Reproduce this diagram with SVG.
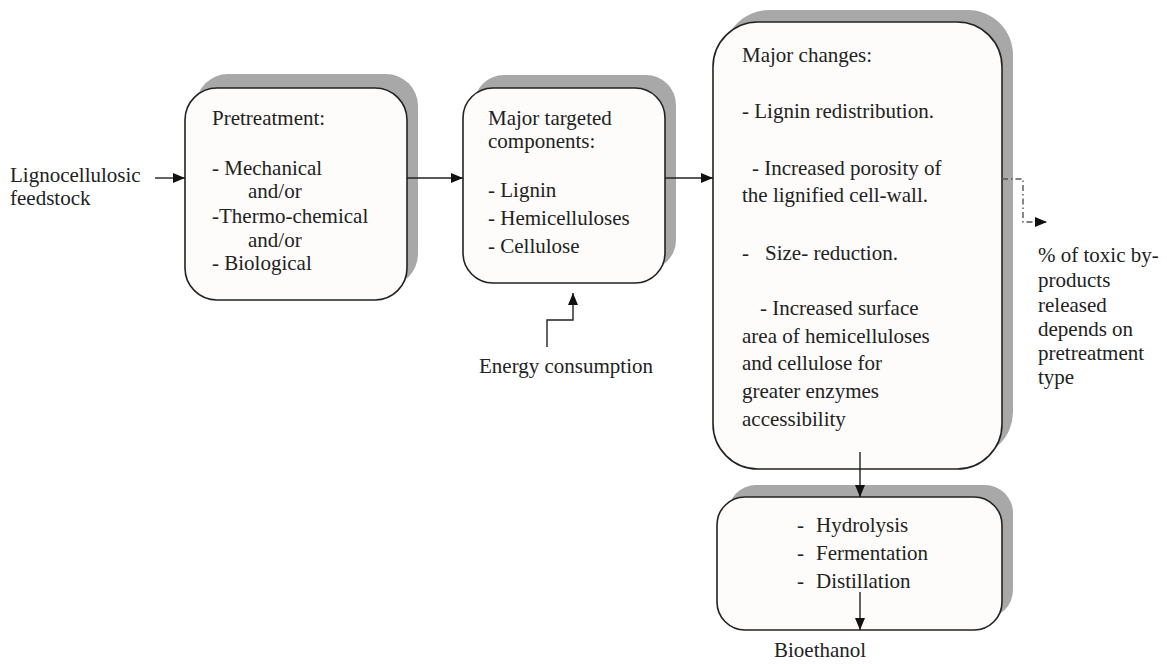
<svg xmlns="http://www.w3.org/2000/svg" width="1167" height="664" viewBox="0 0 1167 664">
<style>
  text { font-family: "Liberation Serif", "Times New Roman", serif; font-size: 21px; fill: #222; }
  .box { fill: #fdfcfa; stroke: #222; stroke-width: 1.6; }
  .shadow { fill: #a8a8a8; stroke: none; }
  .conn { fill: none; stroke: #222; stroke-width: 1.4; }
  .dash { fill: none; stroke: #555; stroke-width: 1.4; stroke-dasharray: 6 3 1.5 3; }
</style>
<defs>
  <marker id="arrow" markerWidth="12" markerHeight="10" refX="12" refY="5" orient="auto" markerUnits="userSpaceOnUse">
    <path d="M0,0 L12,5 L0,10 Z" fill="#111"/>
  </marker>
</defs>
<rect width="1167" height="664" fill="#ffffff"/>

<g id="input-label">
  <text x="10" y="182">Lignocellulosic</text>
  <text x="10" y="205">feedstock</text>
</g>

<g id="pretreatment">
  <rect class="shadow" x="196" y="74" width="222" height="212" rx="32"/>
  <rect class="box" x="185" y="88" width="222" height="212" rx="32"/>
  <text x="212" y="125">Pretreatment:</text>
  <text x="212" y="175">- Mechanical</text>
  <text x="248" y="198">and/or</text>
  <text x="212" y="223">-Thermo-chemical</text>
  <text x="248" y="247">and/or</text>
  <text x="212" y="270">- Biological</text>
</g>

<g id="targeted">
  <rect class="shadow" x="474" y="75" width="202" height="195" rx="30"/>
  <rect class="box" x="463" y="88" width="202" height="195" rx="30"/>
  <text x="488" y="125">Major targeted</text>
  <text x="488" y="148">components:</text>
  <text x="488" y="197">- Lignin</text>
  <text x="488" y="225">- Hemicelluloses</text>
  <text x="488" y="253">- Cellulose</text>
</g>

<g id="energy">
  <text x="479" y="373">Energy consumption</text>
</g>

<g id="changes">
  <rect class="shadow" x="724" y="10" width="289" height="447" rx="45"/>
  <rect class="box" x="713" y="22" width="289" height="447" rx="45"/>
  <text x="742" y="62">Major changes:</text>
  <text x="742" y="118">- Lignin redistribution.</text>
  <text x="752" y="175">- Increased porosity of</text>
  <text x="742" y="202">the lignified cell-wall.</text>
  <text x="742" y="260">-</text>
  <text x="765" y="260">Size- reduction.</text>
  <text x="760" y="315">- Increased surface</text>
  <text x="742" y="343">area of hemicelluloses</text>
  <text x="742" y="370">and cellulose for</text>
  <text x="742" y="398">greater enzymes</text>
  <text x="742" y="426">accessibility</text>
</g>

<g id="toxic-label">
  <text x="1038" y="262">% of toxic by-</text>
  <text x="1038" y="287">products</text>
  <text x="1038" y="312">released</text>
  <text x="1038" y="336">depends on</text>
  <text x="1038" y="360">pretreatment</text>
  <text x="1038" y="384">type</text>
</g>

<g id="processing">
  <rect class="shadow" x="728" y="485" width="285" height="133" rx="28"/>
  <rect class="box" x="717" y="497" width="285" height="133" rx="28"/>
  <text x="797" y="532">-</text>
  <text x="816" y="532">Hydrolysis</text>
  <text x="797" y="560">-</text>
  <text x="816" y="560">Fermentation</text>
  <text x="797" y="588">-</text>
  <text x="816" y="588">Distillation</text>
</g>

<g id="output-label">
  <text x="774" y="657">Bioethanol</text>
</g>

<g id="connectors">
  <line class="conn" x1="155" y1="178" x2="185" y2="178" marker-end="url(#arrow)"/>
  <line class="conn" x1="407" y1="178" x2="463" y2="178" marker-end="url(#arrow)"/>
  <line class="conn" x1="665" y1="178" x2="713" y2="178" marker-end="url(#arrow)"/>
  <polyline class="conn" points="547,347 547,320 573,320 573,293" marker-end="url(#arrow)"/>
  <line class="conn" x1="860" y1="452" x2="860" y2="497" marker-end="url(#arrow)"/>
  <line class="conn" x1="860" y1="592" x2="860" y2="630" marker-end="url(#arrow)"/>
  <polyline class="dash" points="1002,179 1023,179 1023,222 1047,222" marker-end="url(#arrow)"/>
</g>
</svg>
